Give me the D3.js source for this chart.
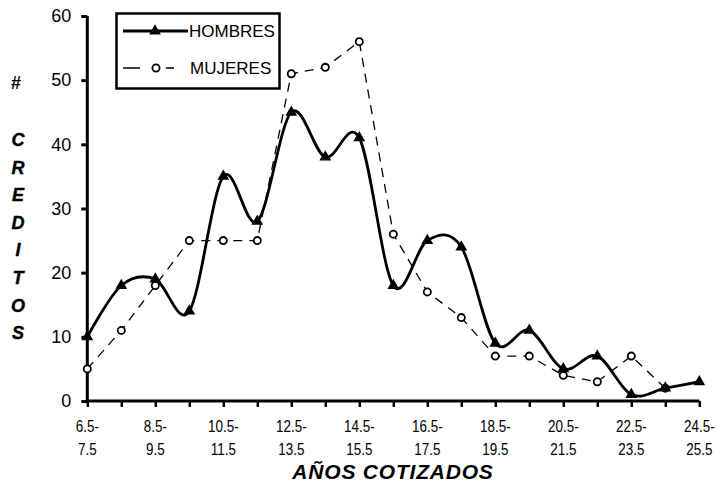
<!DOCTYPE html>
<html>
<head>
<meta charset="utf-8">
<script src="https://cdn.jsdelivr.net/npm/d3@7"></script>
<style>
  html, body { margin: 0; padding: 0; background: #fff; }
  svg { display: block; }
</style>
</head>
<body>
<svg id="chart" width="717" height="484"></svg>
<script>
// Age bands of contributed years (start of each band)
const bandStarts = [6.5, 7.5, 8.5, 9.5, 10.5, 11.5, 12.5, 13.5, 14.5, 15.5,
                    16.5, 17.5, 18.5, 19.5, 20.5, 21.5, 22.5, 23.5, 24.5];
// Credits granted per band
const hombres = [10, 18, 19, 14, 35, 28, 45, 38, 41, 18, 25, 24, 9, 11, 5, 7, 1, 2, 3];
const mujeres = [5, 11, 18, 25, 25, 25, 51, 52, 56, 26, 17, 13, 7, 7, 4, 3, 7, 2, null];
const yTicks = [0, 10, 20, 30, 40, 50, 60];
const yTitleLetters = ["C", "R", "E", "D", "I", "T", "O", "S"];

const fmt = v => String(v);
const bandTop = b => fmt(b) + "-";
const bandBottom = b => fmt(b + 1);

const svg = d3.select("#chart");
const plotLeft = 87.3, plotRight = 699.3, plotTop = 16, plotBottom = 401;

const x = d3.scaleLinear().domain([0, bandStarts.length - 1]).range([plotLeft, plotRight]);
const y = d3.scaleLinear().domain([0, 60]).range([plotBottom, plotTop]);

const sans = "'Liberation Sans', Arial, sans-serif";

// Y axis
const yAxis = svg.append("g")
  .attr("transform", `translate(${plotLeft},0)`)
  .call(d3.axisLeft(y).tickValues(yTicks).tickSize(6).tickPadding(10).tickFormat(fmt));
yAxis.select(".domain").attr("stroke", "#000").attr("stroke-width", 3).attr("d", `M0,${plotTop}V${plotBottom}`);
yAxis.selectAll(".tick line").attr("stroke", "#000").attr("stroke-width", 3);
yAxis.selectAll(".tick text")
  .attr("font-family", sans).attr("font-size", 18).attr("fill", "#000");

// X axis
const xAxis = svg.append("g")
  .attr("transform", `translate(0,${plotBottom})`)
  .call(d3.axisBottom(x).tickValues(d3.range(bandStarts.length)).tickSize(6).tickFormat(""));
xAxis.select(".domain").attr("stroke", "#000").attr("stroke-width", 3).attr("d", `M${plotLeft},0H${plotRight}`);
xAxis.selectAll(".tick line").attr("stroke", "#000").attr("stroke-width", 2.5);

// Band labels on every other tick, two lines each, horizontally condensed
const labelIdx = d3.range(0, bandStarts.length, 2);
const lbl = svg.append("g").attr("font-family", sans).attr("font-size", 16)
  .attr("text-anchor", "middle").attr("fill", "#000");
lbl.selectAll("text.l1").data(labelIdx).join("text")
  .attr("class", "l1").attr("transform", i => `translate(${x(i)},432) scale(0.84,1)`)
  .text(i => bandTop(bandStarts[i]));
lbl.selectAll("text.l2").data(labelIdx).join("text")
  .attr("class", "l2").attr("transform", i => `translate(${x(i)},455) scale(0.84,1)`)
  .text(i => bandBottom(bandStarts[i]));

// Axis titles
svg.append("text")
  .attr("x", 393).attr("y", 479)
  .attr("text-anchor", "middle")
  .attr("font-family", sans).attr("font-size", 21)
  .attr("font-weight", "bold").attr("font-style", "italic")
  .attr("letter-spacing", 0.8)
  .text("AÑOS COTIZADOS");

svg.append("text")
  .attr("x", 16).attr("y", 89)
  .attr("text-anchor", "middle")
  .attr("font-family", sans).attr("font-size", 18).attr("font-weight", "bold")
  .text("#");
svg.append("g").selectAll("text").data(yTitleLetters).join("text")
  .attr("x", 18).attr("y", (d, i) => 146 + i * 27.6)
  .attr("text-anchor", "middle")
  .attr("font-family", sans).attr("font-size", 18)
  .attr("font-weight", "bold").attr("font-style", "italic")
  .attr("stroke", "#000").attr("stroke-width", 0.4)
  .text(d => d);

// MUJERES: thin dashed straight segments with hollow circles
const mujPts = mujeres.map((v, i) => [i, v]).filter(d => d[1] !== null);
svg.append("path")
  .datum(mujPts)
  .attr("fill", "none").attr("stroke", "#000").attr("stroke-width", 1.3)
  .attr("stroke-dasharray", "9,7")
  .attr("d", d3.line().x(d => x(d[0])).y(d => y(d[1])));
svg.append("g").selectAll("circle").data(mujPts).join("circle")
  .attr("cx", d => x(d[0])).attr("cy", d => y(d[1])).attr("r", 3.6)
  .attr("fill", "#fff").attr("stroke", "#000").attr("stroke-width", 1.8);

// HOMBRES: thick smoothed line with filled triangles
const homPts = hombres.map((v, i) => [i, v]);
svg.append("path")
  .datum(homPts)
  .attr("fill", "none").attr("stroke", "#000").attr("stroke-width", 2.8)
  .attr("d", d3.line().curve(d3.curveCatmullRom.alpha(0)).x(d => x(d[0])).y(d => y(d[1])));
const tri = d3.symbol().type(d3.symbolTriangle).size(60);
svg.append("g").selectAll("path").data(homPts).join("path")
  .attr("transform", d => `translate(${x(d[0])},${y(d[1])})`)
  .attr("d", tri).attr("fill", "#000");

// Legend
const lg = svg.append("g");
lg.append("rect").attr("x", 116.5).attr("y", 13.5).attr("width", 163).attr("height", 75)
  .attr("fill", "#fff").attr("stroke", "#000").attr("stroke-width", 2.5);
lg.append("line").attr("x1", 123).attr("x2", 188).attr("y1", 31).attr("y2", 31)
  .attr("stroke", "#000").attr("stroke-width", 2.8);
lg.append("path").attr("transform", "translate(155,31)").attr("d", tri).attr("fill", "#000");
lg.append("text").attr("x", 189).attr("y", 37)
  .attr("font-family", sans).attr("font-size", 17).text("HOMBRES");
lg.append("line").attr("x1", 123).attr("x2", 188).attr("y1", 68).attr("y2", 68)
  .attr("stroke", "#000").attr("stroke-width", 1.3).attr("stroke-dasharray", "17,14,4,8,8");
lg.append("circle").attr("cx", 156).attr("cy", 68).attr("r", 3.6)
  .attr("fill", "#fff").attr("stroke", "#000").attr("stroke-width", 1.8);
lg.append("text").attr("x", 190).attr("y", 74)
  .attr("font-family", sans).attr("font-size", 17).text("MUJERES");
</script>
</body>
</html>
